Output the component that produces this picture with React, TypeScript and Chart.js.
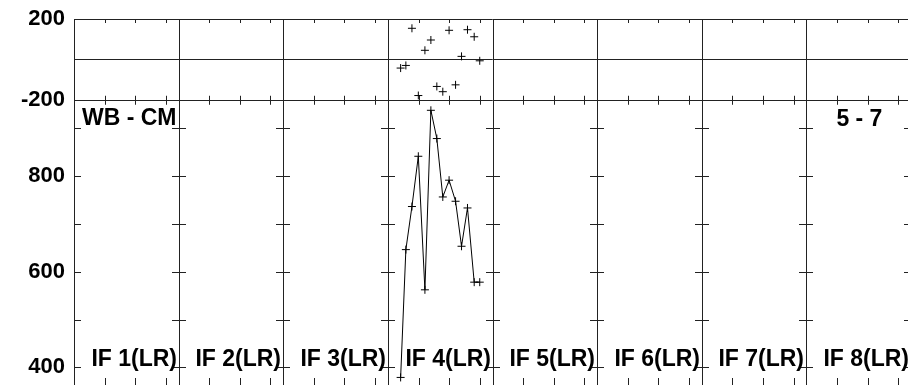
import React, { useEffect, useRef } from 'react';
import { Chart, registerables } from 'chart.js';

Chart.register(...registerables);

// ---- data ----
const ifLabels = ['IF 1(LR)', 'IF 2(LR)', 'IF 3(LR)', 'IF 4(LR)', 'IF 5(LR)', 'IF 6(LR)', 'IF 7(LR)', 'IF 8(LR)'];
const baselineLabel = 'WB - CM';
const scanLabel = '5 - 7';
// sample positions, in IF-column units (IF 4 spans 3..4)
const sampleX = [3.122, 3.172, 3.23, 3.291, 3.354, 3.411, 3.468, 3.525, 3.585, 3.647, 3.704, 3.761, 3.825, 3.878];
const phaseValues = [-43, -30, 154, -179, 45, 96, -134, -160, 144, -126, 15, 147, 112, -7];
const ampValues = [379, 646, 736, 841, 562, 937, 878, 756, 791, 747, 653, 733, 578, 578];
const phaseRange = [-200, 200];
const phaseTicks = [-200, 0, 200];
const phaseTickLabels = ['-200', '', '200'];
const ampRange = [359, 959];
const ampTicks = [400, 500, 600, 700, 800, 900];
const ampTickLabels = ['400', '', '600', '', '800', ''];

const FONT = '"Liberation Sans", Arial, Helvetica, sans-serif';
const INK = '#000';
const FRAME = '#222';

const framePlugin = {
  id: 'panelFrame',
  beforeDatasetsDraw(chart: any) {
    const { ctx } = chart;
    const xs = chart.scales.x;
    const yT = chart.scales.yTop;
    const yB = chart.scales.yBot;
    const L = xs.left;
    const R = xs.right;
    const top = yT.top;
    const sep = yT.bottom;
    const bot = yB.bottom;
    const p = (v: number) => Math.round(v) + 0.5;
    const minorFractions = [0.293, 0.585, 0.878];
    ctx.save();
    ctx.strokeStyle = FRAME;
    ctx.lineWidth = 1;
    ctx.beginPath();
    [top, yT.getPixelForValue(0), sep].forEach((y: number) => {
      ctx.moveTo(L, p(y));
      ctx.lineTo(R, p(y));
    });
    for (let c = 0; c <= ifLabels.length; c++) {
      const x = p(xs.getPixelForValue(c));
      ctx.moveTo(x, top);
      ctx.lineTo(x, bot);
    }
    for (let c = 0; c < ifLabels.length; c++) {
      for (const f of minorFractions) {
        const x = p(xs.getPixelForValue(c + f));
        ctx.moveTo(x, top);
        ctx.lineTo(x, top + 4);
        ctx.moveTo(x, sep - 4);
        ctx.lineTo(x, sep + 5);
        ctx.moveTo(x, bot - 9);
        ctx.lineTo(x, bot);
      }
    }
    yB.ticks.forEach((t: any) => {
      const y = p(yB.getPixelForValue(t.value));
      for (let c = 0; c <= ifLabels.length; c++) {
        const x = Math.round(xs.getPixelForValue(c));
        if (c === 0) {
          ctx.moveTo(x, y);
          ctx.lineTo(x + 7, y);
        } else {
          ctx.moveTo(x - 7, y);
          ctx.lineTo(x + 7, y);
        }
      }
    });
    ctx.stroke();
    ctx.restore();
  },
  afterDraw(chart: any) {
    const { ctx } = chart;
    const xs = chart.scales.x;
    const yT = chart.scales.yTop;
    const yB = chart.scales.yBot;
    ctx.save();
    ctx.fillStyle = INK;
    ctx.font = `bold 23px ${FONT}`;
    ctx.textBaseline = 'alphabetic';
    ctx.textAlign = 'right';
    ifLabels.forEach((lab, i) => {
      ctx.fillText(lab, Math.round(xs.getPixelForValue(i + 1)) - 2, yB.bottom - 21);
    });
    ctx.textAlign = 'left';
    ctx.fillText(baselineLabel, xs.left + 8, yT.bottom + 25);
    ctx.fillText(scanLabel, xs.getPixelForValue(ifLabels.length - 1) + 30, yT.bottom + 26);
    ctx.restore();
  },
};

export default function App() {
  const ref = useRef<HTMLCanvasElement | null>(null);
  useEffect(() => {
    if (!ref.current) return;
    const phasePts = sampleX.map((x, i) => ({ x, y: phaseValues[i] }));
    const ampPts = sampleX.map((x, i) => ({ x, y: ampValues[i] }));
    const tickFont = { family: FONT, size: 22, weight: 'bold' as const };
    const chart = new Chart(ref.current, {
      type: 'line',
      data: {
        datasets: [
          {
            data: phasePts,
            xAxisID: 'x',
            yAxisID: 'yTop',
            showLine: false,
            borderColor: INK,
            backgroundColor: INK,
            pointStyle: 'cross',
            pointRadius: 4,
            pointBorderWidth: 1,
          },
          {
            data: ampPts,
            xAxisID: 'x',
            yAxisID: 'yBot',
            showLine: true,
            borderColor: INK,
            borderWidth: 1,
            backgroundColor: INK,
            pointStyle: 'cross',
            pointRadius: 4,
            pointBorderWidth: 1,
            tension: 0,
          },
        ],
      },
      options: {
        animation: false,
        responsive: false,
        devicePixelRatio: 1,
        layout: { padding: { top: 19, right: 4, bottom: 4, left: 0 } },
        plugins: { legend: { display: false }, tooltip: { enabled: false } },
        scales: {
          x: { type: 'linear', min: 0, max: ifLabels.length, display: false },
          yBot: {
            type: 'linear',
            position: 'left',
            stack: 'panels',
            stackWeight: 288,
            min: ampRange[0],
            max: ampRange[1],
            grid: { display: false, drawTicks: false },
            border: { display: false },
            afterBuildTicks: (s: any) => {
              s.ticks = ampTicks.map((value) => ({ value }));
            },
            ticks: {
              autoSkip: false,
              padding: 9,
              color: INK,
              font: tickFont,
              callback: (_v: any, i: number) => ampTickLabels[i],
            },
            afterFit: (s: any) => {
              s.width = 74;
              s.paddingTop = 0;
              s.paddingBottom = 0;
            },
          },
          yTop: {
            type: 'linear',
            position: 'left',
            stack: 'panels',
            stackWeight: 81,
            min: phaseRange[0],
            max: phaseRange[1],
            grid: { display: false, drawTicks: false },
            border: { display: false },
            afterBuildTicks: (s: any) => {
              s.ticks = phaseTicks.map((value) => ({ value }));
            },
            ticks: {
              autoSkip: false,
              padding: 9,
              color: INK,
              font: tickFont,
              callback: (_v: any, i: number) => phaseTickLabels[i],
            },
            afterFit: (s: any) => {
              s.width = 74;
              s.paddingTop = 0;
              s.paddingBottom = 0;
            },
          },
        },
      },
      plugins: [framePlugin],
    });
    return () => chart.destroy();
  }, []);
  return (
    <div style={{ position: 'fixed', left: 0, top: 0, width: 908, height: 385, overflow: 'hidden', background: '#fff' }}>
      <canvas ref={ref} width={916} height={392} style={{ width: 916, height: 392, display: 'block' }} />
    </div>
  );
}
